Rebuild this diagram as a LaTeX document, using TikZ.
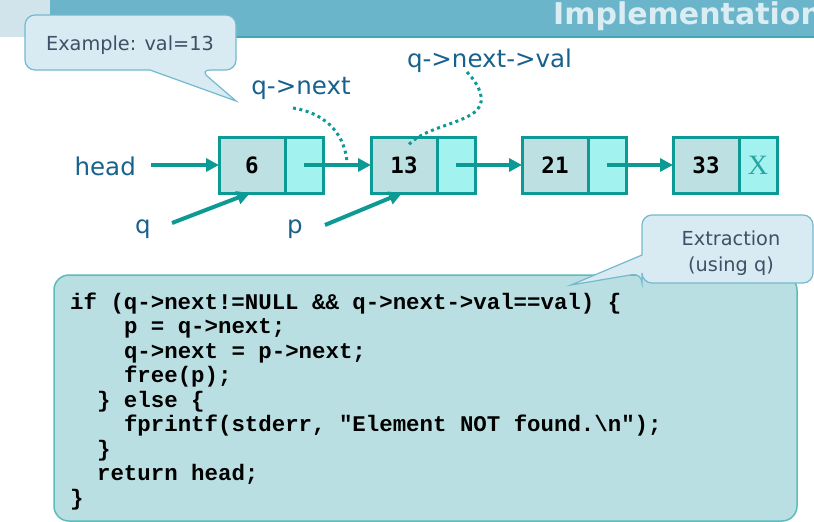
\documentclass[tikz,border=0pt]{standalone}
\usepackage{fontspec}
\setmainfont{DejaVu Sans}
\newfontfamily\codefont{Liberation Mono}
\newfontfamily\valfont{DejaVu Sans Mono}
\newfontfamily\xfont{Liberation Serif}
\usetikzlibrary{arrows.meta,calc}
\definecolor{barc}{HTML}{6BB5CB}
\definecolor{barline}{HTML}{3DA8B8}
\definecolor{titlec}{HTML}{D9EDF3}
\definecolor{calfill}{HTML}{D8EBF2}
\definecolor{caldraw}{HTML}{74B9CF}
\definecolor{caltext}{HTML}{3D5166}
\definecolor{lblue}{HTML}{17628C}
\definecolor{tealc}{HTML}{0E9A94}
\definecolor{valfill}{HTML}{BDE0E2}
\definecolor{ptrfill}{HTML}{A2F3EF}
\definecolor{codefill}{HTML}{BADFE2}
\definecolor{codedraw}{HTML}{5BBCBD}
\tikzset{
  valcell/.style={draw=tealc, fill=valfill, line width=3pt, minimum width=66pt, minimum height=56pt, inner sep=0pt, outer sep=0pt, font=\valfont\bfseries\fontsize{22.5}{26}\selectfont},
  ptrcell/.style={draw=tealc, fill=ptrfill, line width=3pt, minimum width=38pt, minimum height=56pt, inner sep=0pt, outer sep=0pt, anchor=west, font=\xfont\fontsize{28}{30}\selectfont, text=tealc!90!white},
  arr/.style={draw=tealc, line width=4pt, -{Triangle[length=13pt,width=13pt]}},
  dotline/.style={draw=tealc, line width=3pt, dash pattern=on 3pt off 3.5pt},
  lbl/.style={text=lblue, inner sep=0pt, font=\fontsize{24.5}{29}\selectfont},
  caltxt/.style={text=caltext, inner sep=0pt, font=\fontsize{19.3}{26}\selectfont},
  callout/.style={fill=calfill, draw=caldraw, line width=1.2pt},
  code/.style={inner sep=0pt, anchor=base west, font=\codefont\bfseries\fontsize{22.4}{24.5}\selectfont}
}
\begin{document}
\begin{tikzpicture}[x=1pt, y=-1pt]
\useasboundingbox (0,0) rectangle (814,522);
\begin{scope}
\clip (0,0) rectangle (814,522);
% title bar
\fill[white] (0,0) rectangle (814,522);
\fill[color=black!3!calfill] (0,0) rectangle (50,37);
\fill[barc] (50,0) rectangle (814,37);
\draw[barline, line width=1.5pt] (50,37) -- (814,37);
\node[anchor=base west, inner sep=0pt, text=titlec, font=\bfseries\fontsize{30}{34}\selectfont] (title) at (553,24) {Implementation};

% Example callout
\draw[callout] (25,42) [rounded corners=10pt] |- (236,15) |- (200,70) [sharp corners] -- (236,101) -- (150,70) [rounded corners=10pt] -| (25,42) -- cycle;
\node[caltxt, anchor=base] (ex) at (130,50) {Example: val=13};

% labels
\node[lbl, anchor=base] (qn) at (301,94) {q->next};
\node[lbl, anchor=base] (qnv) at (489.5,67) {q->next->val};
\node[lbl, anchor=base east] (head) at (136,175) {head};
\node[lbl, anchor=base] (q) at (143,233) {q};
\node[lbl, anchor=base] (p) at (295,233) {p};

% list nodes
\node[valcell, anchor=west] (v1) at (219,165) {6};
\node[ptrcell] (p1) at (v1.east) {};
\node[valcell, anchor=west] (v2) at (371,165) {13};
\node[ptrcell] (p2) at (v2.east) {};
\node[valcell, anchor=west] (v3) at (522,165) {21};
\node[ptrcell] (p3) at (v3.east) {};
\node[valcell, anchor=west] (v4) at (673,165) {33};
\node[ptrcell] (p4) at (v4.east) {X};

% arrows
\draw[arr] ([xshift=15pt]head.east |- v1.west) -- (v1.west);
\draw[arr] (p1.center) -- (v2.west);
\draw[arr] (p2.center) -- (v3.west);
\draw[arr] (p3.center) -- (v4.west);
\coordinate (qs) at (172,223);
\coordinate (ps) at (325,225);
\draw[arr] (qs) -- ($(v1.south west)!0.47!(v1.south east)$);
\draw[arr] (ps) -- ($(v2.south west)!0.47!(v2.south east)$);

% dotted curves
\coordinate (d1) at (293,108);
\coordinate (d2) at (467,72);
\draw[dotline] (d1) .. controls (330,114) and (345,138) .. (347,162);
\draw[dotline] (d2) .. controls (480,86) and (486,100) .. (477,110) .. controls (464,124) and (420,128) .. (407,147);

% code box
\draw[fill=codefill, draw=codedraw, line width=1.5pt, rounded corners=15pt] (54,275) rectangle (797,521);
\node[code] (c1) at (70,309) {if (q->next!=NULL \&\& q->next->val==val) \{};
\node[code] (c2) at (123.8,333.5) {p = q->next;};
\node[code] (c3) at (123.8,358) {q->next = p->next;};
\node[code] (c4) at (123.8,382.5) {free(p);};
\node[code] (c5) at (96.9,407) {\} else \{};
\node[code] (c6) at (123.8,431.5) {fprintf(stderr, "Element NOT found.\textbackslash n");};
\node[code] (c7) at (96.9,456) {\}};
\node[code] (c8) at (96.9,480.5) {return head;};
\node[code] (c9) at (70,505) {\}};

% Extraction callout
\draw[callout] (642,255) [rounded corners=10pt] |- (813,215) |- (642,283) -- (642,273) [sharp corners] -- (571,285) -- cycle;
\node[caltxt, anchor=base] (ext1) at (731,245) {Extraction};
\node[caltxt, anchor=base] (ext2) at (731,271) {(using q)};
\end{scope}
\end{tikzpicture}
\end{document}
